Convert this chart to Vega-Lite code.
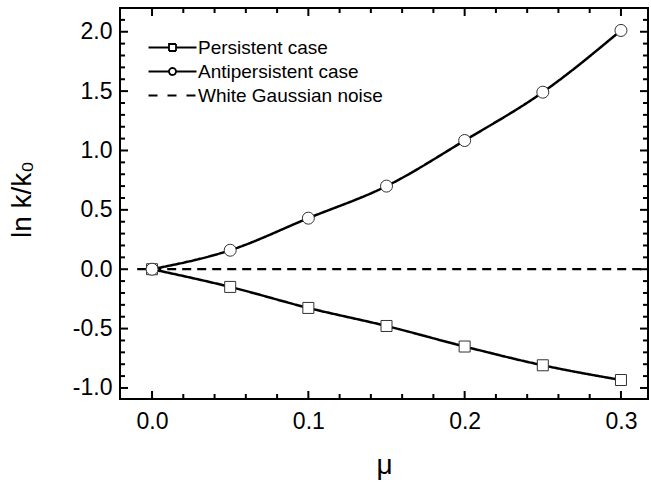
{
  "$schema": "https://vega.github.io/schema/vega-lite/v6.json",
  "width": 528,
  "height": 391,
  "autosize": {"type": "none"},
  "padding": {"left": 120, "top": 8, "right": 3, "bottom": 92},
  "background": "white",
  "config": {
    "view": {"stroke": "black", "strokeWidth": 2},
    "font": "Liberation Sans",
    "axis": {
      "grid": false,
      "domain": false,
      "tickSize": 0,
      "labelColor": "black",
      "titleColor": "black",
      "labelFont": "Liberation Sans",
      "titleFont": "Liberation Sans",
      "labelFontSize": 23,
      "titleFontSize": 28,
      "titleFontWeight": "normal",
      "labelOverlap": false
    }
  },
  "datasets": {
    "noise": [
      {"mu": -0.0095, "lnk": 0, "series": "White Gaussian noise"},
      {"mu": 0.3173, "lnk": 0, "series": "White Gaussian noise"}
    ],
    "curves": [
      {"mu": 0.0, "lnk": 0.0, "series": "Persistent case"},
      {"mu": 0.05, "lnk": -0.149, "series": "Persistent case"},
      {"mu": 0.1, "lnk": -0.326, "series": "Persistent case"},
      {"mu": 0.15, "lnk": -0.478, "series": "Persistent case"},
      {"mu": 0.2, "lnk": -0.651, "series": "Persistent case"},
      {"mu": 0.25, "lnk": -0.809, "series": "Persistent case"},
      {"mu": 0.3, "lnk": -0.933, "series": "Persistent case"},
      {"mu": 0.0, "lnk": 0.0, "series": "Antipersistent case"},
      {"mu": 0.05, "lnk": 0.16, "series": "Antipersistent case"},
      {"mu": 0.1, "lnk": 0.43, "series": "Antipersistent case"},
      {"mu": 0.15, "lnk": 0.70, "series": "Antipersistent case"},
      {"mu": 0.2, "lnk": 1.084, "series": "Antipersistent case"},
      {"mu": 0.25, "lnk": 1.491, "series": "Antipersistent case"},
      {"mu": 0.3, "lnk": 2.011, "series": "Antipersistent case"}
    ],
    "xmajor": [{"v": 0}, {"v": 0.1}, {"v": 0.2}, {"v": 0.3}],
    "xminor": [{"v": 0.02}, {"v": 0.04}, {"v": 0.06}, {"v": 0.08}, {"v": 0.12}, {"v": 0.14}, {"v": 0.16}, {"v": 0.18}, {"v": 0.22}, {"v": 0.24}, {"v": 0.26}, {"v": 0.28}],
    "ymajor": [{"v": -1}, {"v": -0.5}, {"v": 0}, {"v": 0.5}, {"v": 1}, {"v": 1.5}, {"v": 2}],
    "yminor": [{"v": -0.9}, {"v": -0.8}, {"v": -0.7}, {"v": -0.6}, {"v": -0.4}, {"v": -0.3}, {"v": -0.2}, {"v": -0.1}, {"v": 0.1}, {"v": 0.2}, {"v": 0.3}, {"v": 0.4}, {"v": 0.6}, {"v": 0.7}, {"v": 0.8}, {"v": 0.9}, {"v": 1.1}, {"v": 1.2}, {"v": 1.3}, {"v": 1.4}, {"v": 1.6}, {"v": 1.7}, {"v": 1.8}, {"v": 1.9}, {"v": 2.1}]
  },
  "layer": [
    {
      "data": {"name": "noise"},
      "mark": {"type": "line", "color": "black", "strokeWidth": 2.2, "clip": true},
      "encoding": {
        "x": {
          "field": "mu", "type": "quantitative",
          "scale": {"domain": [-0.0205, 0.3173], "nice": false, "zero": false},
          "axis": {
            "orient": "bottom", "values": [0, 0.1, 0.2, 0.3],
            "labelPadding": 11, "labelExpr": "format(datum.value, '.1f')",
            "title": "μ", "titleY": 66, "titleBaseline": "middle"
          }
        },
        "y": {
          "field": "lnk", "type": "quantitative",
          "scale": {"domain": [-1.093, 2.2], "nice": false, "zero": false},
          "axis": {
            "orient": "left", "values": [-1, -0.5, 0, 0.5, 1, 1.5, 2],
            "labelPadding": 8,
            "labelExpr": "datum.value < 0 ? '-' + format(-datum.value, '.1f') : format(datum.value, '.1f')",
            "title": "ln k/k₀", "titleX": -98, "titleY": 191, "titleAngle": -90,
            "titleAlign": "center", "titleBaseline": "middle"
          }
        },
        "strokeDash": {
          "field": "series", "type": "nominal",
          "scale": {
            "domain": ["Persistent case", "Antipersistent case", "White Gaussian noise"],
            "range": [[1, 0], [1, 0], [9, 6]]
          },
          "legend": {
            "orient": "none", "legendX": 43, "legendY": 30, "title": null,
            "symbolSize": 100, "labelFontSize": 19, "labelFont": "Liberation Sans",
            "labelColor": "black", "labelOffset": 16, "labelLimit": 400, "rowPadding": 4, "padding": 0,
            "symbolStrokeWidth": 1.8, "symbolStrokeColor": "black",
            "encode": {
              "symbols": {
                "update": {
                  "shape": {"signal": "datum.value === 'Persistent case' ? 'M-4.8,0H-0.7M0.7,0H4.8M-0.7,-0.7H0.7V0.7H-0.7Z' : datum.value === 'Antipersistent case' ? 'M-4.8,0H-0.7M0.7,0H4.8M0.7,0A0.7,0.7,0,1,1,-0.7,0A0.7,0.7,0,1,1,0.7,0Z' : 'M-4.8,0H-2.8M-1,0H1M2.8,0H4.8'"},
                  "fill": {"value": "white"},
                  "stroke": {"value": "black"},
                  "strokeDash": {"value": [1, 0]},
                  "strokeWidth": {"value": 1.8}
                }
              }
            }
          }
        }
      }
    },
    {
      "data": {"name": "curves"},
      "mark": {"type": "line", "color": "black", "strokeWidth": 2.5, "interpolate": "monotone"},
      "encoding": {
        "x": {"field": "mu", "type": "quantitative", "scale": {"domain": [-0.0205, 0.3173], "nice": false, "zero": false}},
        "y": {"field": "lnk", "type": "quantitative", "scale": {"domain": [-1.093, 2.2], "nice": false, "zero": false}},
        "detail": {"field": "series", "type": "nominal"},
        "strokeDash": {"field": "series", "type": "nominal"}
      }
    },
    {
      "data": {"name": "xmajor"},
      "mark": {"type": "rule", "color": "black", "strokeWidth": 2},
      "encoding": {
        "x": {"field": "v", "type": "quantitative", "scale": {"domain": [-0.0205, 0.3173], "nice": false, "zero": false}},
        "y": {"datum": -1.093, "type": "quantitative", "scale": {"domain": [-1.093, 2.2], "nice": false, "zero": false}},
        "y2": {"datum": -1.0256}
      }
    },
    {
      "data": {"name": "xmajor"},
      "mark": {"type": "rule", "color": "black", "strokeWidth": 2},
      "encoding": {
        "x": {"field": "v", "type": "quantitative", "scale": {"domain": [-0.0205, 0.3173], "nice": false, "zero": false}},
        "y": {"datum": 2.2, "type": "quantitative", "scale": {"domain": [-1.093, 2.2], "nice": false, "zero": false}},
        "y2": {"datum": 2.1326}
      }
    },
    {
      "data": {"name": "xminor"},
      "mark": {"type": "rule", "color": "black", "strokeWidth": 2},
      "encoding": {
        "x": {"field": "v", "type": "quantitative", "scale": {"domain": [-0.0205, 0.3173], "nice": false, "zero": false}},
        "y": {"datum": -1.093, "type": "quantitative", "scale": {"domain": [-1.093, 2.2], "nice": false, "zero": false}},
        "y2": {"datum": -1.0509}
      }
    },
    {
      "data": {"name": "xminor"},
      "mark": {"type": "rule", "color": "black", "strokeWidth": 2},
      "encoding": {
        "x": {"field": "v", "type": "quantitative", "scale": {"domain": [-0.0205, 0.3173], "nice": false, "zero": false}},
        "y": {"datum": 2.2, "type": "quantitative", "scale": {"domain": [-1.093, 2.2], "nice": false, "zero": false}},
        "y2": {"datum": 2.1579}
      }
    },
    {
      "data": {"name": "ymajor"},
      "mark": {"type": "rule", "color": "black", "strokeWidth": 2},
      "encoding": {
        "y": {"field": "v", "type": "quantitative", "scale": {"domain": [-1.093, 2.2], "nice": false, "zero": false}},
        "x": {"datum": -0.0205, "type": "quantitative", "scale": {"domain": [-0.0205, 0.3173], "nice": false, "zero": false}},
        "x2": {"datum": -0.01538}
      }
    },
    {
      "data": {"name": "ymajor"},
      "mark": {"type": "rule", "color": "black", "strokeWidth": 2},
      "encoding": {
        "y": {"field": "v", "type": "quantitative", "scale": {"domain": [-1.093, 2.2], "nice": false, "zero": false}},
        "x": {"datum": 0.3173, "type": "quantitative", "scale": {"domain": [-0.0205, 0.3173], "nice": false, "zero": false}},
        "x2": {"datum": 0.31218}
      }
    },
    {
      "data": {"name": "yminor"},
      "mark": {"type": "rule", "color": "black", "strokeWidth": 2},
      "encoding": {
        "y": {"field": "v", "type": "quantitative", "scale": {"domain": [-1.093, 2.2], "nice": false, "zero": false}},
        "x": {"datum": -0.0205, "type": "quantitative", "scale": {"domain": [-0.0205, 0.3173], "nice": false, "zero": false}},
        "x2": {"datum": -0.0173}
      }
    },
    {
      "data": {"name": "yminor"},
      "mark": {"type": "rule", "color": "black", "strokeWidth": 2},
      "encoding": {
        "y": {"field": "v", "type": "quantitative", "scale": {"domain": [-1.093, 2.2], "nice": false, "zero": false}},
        "x": {"datum": 0.3173, "type": "quantitative", "scale": {"domain": [-0.0205, 0.3173], "nice": false, "zero": false}},
        "x2": {"datum": 0.3141}
      }
    },
    {
      "data": {"name": "curves"},
      "transform": [{"filter": "datum.series === 'Persistent case'"}],
      "mark": {"type": "point", "shape": "square", "size": 121, "filled": true, "fill": "white", "stroke": "#333333", "strokeWidth": 1, "opacity": 1},
      "encoding": {
        "x": {"field": "mu", "type": "quantitative", "scale": {"domain": [-0.0205, 0.3173], "nice": false, "zero": false}},
        "y": {"field": "lnk", "type": "quantitative", "scale": {"domain": [-1.093, 2.2], "nice": false, "zero": false}}
      }
    },
    {
      "data": {"name": "curves"},
      "transform": [{"filter": "datum.series === 'Antipersistent case'"}],
      "mark": {"type": "point", "shape": "circle", "size": 144, "filled": true, "fill": "white", "stroke": "#333333", "strokeWidth": 1, "opacity": 1},
      "encoding": {
        "x": {"field": "mu", "type": "quantitative", "scale": {"domain": [-0.0205, 0.3173], "nice": false, "zero": false}},
        "y": {"field": "lnk", "type": "quantitative", "scale": {"domain": [-1.093, 2.2], "nice": false, "zero": false}}
      }
    }
  ]
}
